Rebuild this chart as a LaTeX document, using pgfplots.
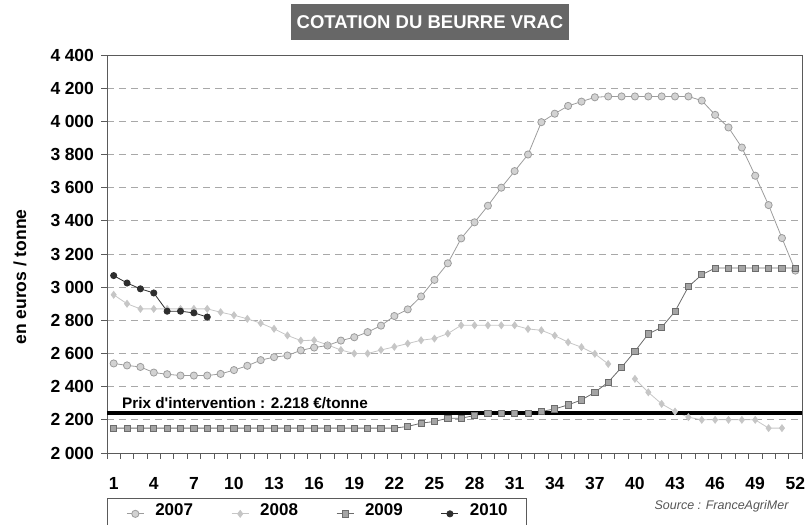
\documentclass[border=0pt]{standalone}
\usepackage{fontspec}
\setmainfont{Liberation Sans}
\usepackage{pgfplots}
\usepackage{pgfplotstable}
\pgfplotsset{compat=1.18}
\usetikzlibrary{calc}

\definecolor{titlegray}{HTML}{676767}
\definecolor{gridgray}{HTML}{A8A8A8}
\definecolor{framegray}{HTML}{5A5A5A}
\definecolor{c07fill}{HTML}{D2D2D2}
\definecolor{c07line}{HTML}{9C9C9C}
\definecolor{c08}{HTML}{C6C6C6}
\definecolor{c09fill}{HTML}{A4A4A4}
\definecolor{c09line}{HTML}{6C6C6C}
\definecolor{c10}{HTML}{2E2E2E}
\definecolor{srcgray}{HTML}{555555}

% weekly butter price, euros / tonne (nan = no quotation)
\pgfplotstableread{
week y2007 y2008 y2009 y2010
1  2540 2954 2150 3070
2  2528 2900 2150 3025
3  2519 2869 2150 2990
4  2485 2869 2150 2965
5  2475 2869 2150 2855
6  2467 2869 2150 2855
7  2467 2869 2150 2845
8  2467 2869 2150 2820
9  2477 2849 2150 nan
10 2500 2831 2150 nan
11 2526 2809 2150 nan
12 2560 2783 2150 nan
13 2578 2749 2150 nan
14 2588 2709 2150 nan
15 2619 2678 2150 nan
16 2636 2680 2150 nan
17 2648 2652 2150 nan
18 2678 2621 2150 nan
19 2698 2600 2150 nan
20 2729 2600 2150 nan
21 2768 2621 2150 nan
22 2826 2640 2150 nan
23 2866 2660 2160 nan
24 2944 2680 2180 nan
25 3044 2690 2190 nan
26 3144 2720 2210 nan
27 3294 2770 2210 nan
28 3391 2770 2226 nan
29 3491 2770 2240 nan
30 3600 2770 2240 nan
31 3700 2770 2240 nan
32 3800 2748 2240 nan
33 3995 2740 2250 nan
34 4046 2708 2266 nan
35 4093 2668 2290 nan
36 4119 2638 2320 nan
37 4145 2598 2366 nan
38 4150 2537 2427 nan
39 4150 nan  2517 nan
40 4150 2447 2613 nan
41 4150 2366 2718 nan
42 4150 2296 2758 nan
43 4150 2250 2854 nan
44 4150 2216 3003 nan
45 4125 2200 3075 nan
46 4039 2200 3115 nan
47 3963 2200 3115 nan
48 3842 2200 3115 nan
49 3672 2200 3115 nan
50 3495 2150 3115 nan
51 3296 2150 3115 nan
52 3100 nan  3115 nan
}\cotation

\begin{document}
\begin{tikzpicture}
\begin{axis}[
    name=ax,
    scale only axis,
    width=695pt, height=398pt,
    xmin=0.5, xmax=52.5,
    ymin=2000, ymax=4400,
    % tick marks between the weeks; every third one labelled, moved half a week right
    xtick={0.5,1.5,...,52.5},
    xticklabels={1,,,4,,,7,,,10,,,13,,,16,,,19,,,22,,,25,,,28,,,31,,,34,,,37,,,40,,,43,,,46,,,49,,,52,},
    xticklabel style={xshift=6.68pt, yshift=-15pt},
    ytick={2000,2200,...,4400},
    tick pos=left,
    tick align=outside,
    major tick length=5.5pt,
    tick style={framegray, line width=0.8pt},
    axis line style={framegray, line width=0.8pt},
    ymajorgrids=true,
    grid style={gridgray, dash pattern=on 7pt off 5pt, line width=0.8pt},
    /pgf/number format/assume math mode=true,
    /pgf/number format/1000 sep={\hspace{0.25em}},
    ticklabel style={font=\bfseries\fontsize{17.5}{17.5}\selectfont},
    yticklabel style={xshift=-4pt},
    unbounded coords=jump,
    legend columns=4,
    legend cell align=left,
    legend style={at={(0,0)}, anchor=north west, yshift=-45pt,
        draw=framegray, line width=0.8pt,
        inner xsep=19pt, inner ysep=5pt,
        nodes={inner sep=0pt, text depth=9pt},
        font=\bfseries\fontsize{17}{17}\selectfont,
        /tikz/every odd column/.append style={column sep=11pt},
        /tikz/every even column/.append style={column sep=0pt}},
]
\addplot[c07line, line width=0.8pt, mark=*, mark size=3.6pt,
    mark options={fill=c07fill, draw=c07line}]
    table[x=week, y=y2007] {\cotation};
\addplot[c08, line width=0.8pt, mark=diamond*, mark size=3.4pt,
    mark options={fill=c08, draw=c08}]
    table[x=week, y=y2008] {\cotation};
\addplot[c09line, line width=0.8pt, mark=square*, mark size=3.1pt,
    mark options={fill=c09fill, draw=c09line}]
    table[x=week, y=y2009] {\cotation};
\addplot[c10, line width=0.8pt, mark=*, mark size=3.1pt,
    mark options={fill=c10, draw=c10}]
    table[x=week, y=y2010] {\cotation};
\legend{\makebox[76pt][l]{2007},\makebox[76pt][l]{2008},\makebox[76pt][l]{2009},2010}

% intervention price
\addplot[black, line width=3.5pt, forget plot] coordinates {(0.5,2240) (52.5,2240)};
\node[anchor=base west, inner sep=0pt, font=\bfseries\fontsize{15.3}{15.3}\selectfont]
    at (axis cs:1.62,2240) [yshift=5pt] {Prix d\textquotesingle intervention : 2.218 €/tonne};
\end{axis}

\node[fill=titlegray, text=white, font=\bfseries\fontsize{18.5}{18.5}\selectfont,
    inner xsep=6pt, minimum height=36pt]
    at ($(ax.north west)+(323pt,33pt)$) {COTATION DU BEURRE VRAC};
\node[rotate=90, font=\bfseries\fontsize{17.5}{17.5}\selectfont]
    at ($(ax.west)+(-87pt,-23pt)$) {en euros / tonne};
\node[anchor=east, font=\itshape\fontsize{12.5}{12.5}\selectfont, text=srcgray]
    at ($(ax.south east)+(-10pt,-53pt)$) {Source : FranceAgriMer};

\pgfresetboundingbox
\path[use as bounding box] ($(ax.south west)+(-107pt,-71pt)$) rectangle ($(ax.north east)+(8pt,55pt)$);
\end{tikzpicture}
\end{document}
